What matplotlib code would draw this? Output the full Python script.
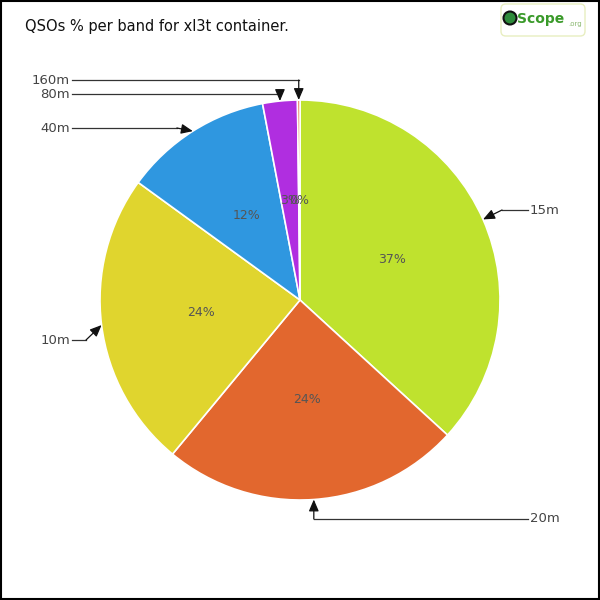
import numpy as np
import matplotlib
matplotlib.use("Agg")
import matplotlib.pyplot as plt
from matplotlib.patches import Rectangle, FancyBboxPatch, Circle

# data (percent of QSOs per band)
bands = ["15m", "20m", "10m", "40m", "80m", "160m"]
share = [36.8, 24.2, 24.0, 12.0, 2.8, 0.2]
colors = ["#bfe22e", "#e2672e", "#e0d52e", "#2f97e0", "#b02ee0", "#e0612e"]

# label layout: text position in px, side, knee type
label_x = [530, 530, 70, 70, 70, 70]
label_y = [210, 519, 340, 128, 94, 80]
knee = ["d", "v", "d", "d", "v", "v"]

fig = plt.figure(figsize=(6, 6), dpi=100)
ax = fig.add_axes([0, 0, 1, 1])

wedges, _ = ax.pie(share, colors=colors, startangle=90, counterclock=False,
                   radius=1.0, wedgeprops=dict(edgecolor="white", linewidth=1.2))
ax.set_xlim(-1.5, 1.5)
ax.set_ylim(-1.5, 1.5)
ax.axis("off")

def px(x, y):
    return ((x - 300) / 200.0, (300 - y) / 200.0)

cum = np.cumsum([0] + share)
for i, b in enumerate(bands):
    mid = np.deg2rad((cum[i] + share[i] / 2) * 3.6)
    # percentage inside (3% and 0% overlap, as in the original)
    ax.text(0.5 * np.sin(mid), 0.5 * np.cos(mid), "%d%%" % round(share[i]),
            ha="center", va="center", fontsize=9, color="#555555")
    tip = (np.sin(mid), np.cos(mid))
    tx, ty = px(label_x[i], label_y[i])
    right = label_x[i] > 300
    if knee[i] == "v":
        k = (tip[0], ty)
    else:
        k = (tx - 0.14 if right else tx + 0.08, ty)
        if b == "40m":
            k = (tip[0] - 0.08, ty)
    start = (tx - 0.01 if right else tx + 0.01, ty)
    ax.plot([start[0], k[0]], [start[1], k[1]], color="#333333", lw=0.9)
    ax.annotate("", xy=tip, xytext=k,
                arrowprops=dict(arrowstyle="-|>,head_length=0.7,head_width=0.3",
                                color="#111111", lw=0.9, shrinkA=0, shrinkB=0))
    ax.text(tx, ty, b, ha="left" if right else "right", va="center",
            fontsize=9.5, color="#444444")

fig.text(25 / 600, 1 - 27 / 600, "QSOs % per band for xl3t container.",
         fontsize=10.5, color="#111111", va="center", ha="left")

# logo
fig.patches.append(FancyBboxPatch((501 / 600, 1 - 36 / 600), 84 / 600, 32 / 600,
                                  boxstyle="round,pad=0,rounding_size=0.008",
                                  transform=fig.transFigure, facecolor="white",
                                  edgecolor="#e8eec0", lw=1))
fig.patches.append(Circle((510 / 600, 1 - 18 / 600), 6.5 / 600, transform=fig.transFigure,
                          facecolor="#2e8b3a", edgecolor="#111111", lw=1.5))
fig.text(517 / 600, 1 - 19 / 600, "Scope", fontsize=10, fontweight="bold",
         color="#3a9a2a", va="center", ha="left")
fig.text(568 / 600, 1 - 24 / 600, ".org", fontsize=5, color="#8ab870",
         va="center", ha="left")

# frame
fig.patches.append(Rectangle((0.0015, 0.0015), 0.997, 0.997, transform=fig.transFigure,
                             fill=False, edgecolor="black", lw=1.5))

fig.savefig("out.png", dpi=100, facecolor="white")
